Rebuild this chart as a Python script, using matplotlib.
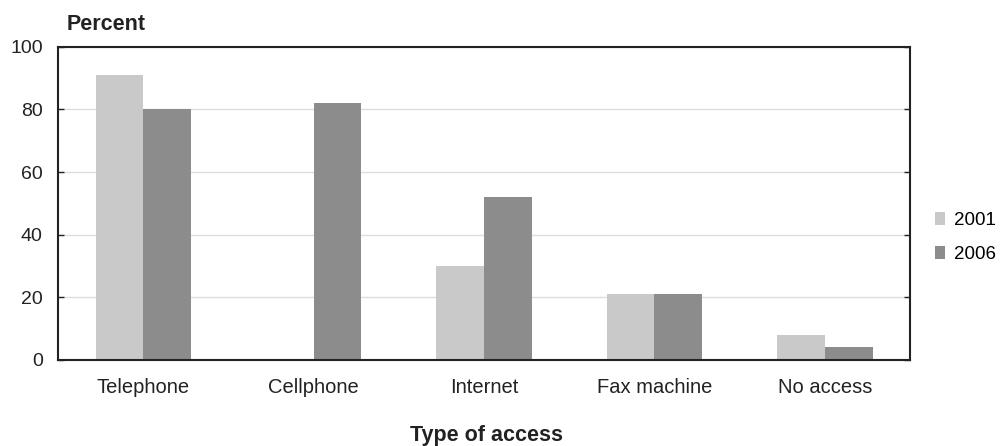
import matplotlib
matplotlib.use("Agg")
import matplotlib.pyplot as plt
import numpy as np

plt.rcParams['font.family'] = ['Liberation Sans', 'DejaVu Sans']

categories = ["Telephone", "Cellphone", "Internet", "Fax machine", "No access"]
years = ["2001", "2006"]
values_2001 = [91, 0, 30, 21, 8]
values_2006 = [80, 82, 52, 21, 4]
y_ticks = [0, 20, 40, 60, 80, 100]

color_2001 = "#c9c9c9"
color_2006 = "#8c8c8c"
ink = "#222222"

fig = plt.figure(figsize=(10.04, 4.46), dpi=100)
ax = fig.add_axes([0.0578, 0.193, 0.8486, 0.702])

x = np.arange(len(categories))
width = 0.28
ax.bar(x - width / 2, values_2001, width, color=color_2001, label=years[0], zorder=2)
ax.bar(x + width / 2, values_2006, width, color=color_2006, label=years[1], zorder=2)

ax.set_xlim(-0.5, len(categories) - 0.5)
ax.set_ylim(0, 100)
ax.set_yticks(y_ticks)
ax.set_yticklabels([str(t) for t in y_ticks], fontsize=14, color=ink)
ax.set_xticks(x)
ax.set_xticklabels(categories, fontsize=14.5, color=ink)
ax.tick_params(axis='x', length=0, pad=13)
ax.tick_params(axis='y', length=4, width=1, direction='in', right=True, pad=11, color=ink)
ax.grid(axis='y', color='#dddddd', linewidth=1, zorder=0)

for side in ['left', 'bottom', 'right', 'top']:
    ax.spines[side].set_color(ink)
    ax.spines[side].set_linewidth(1.5)

fig.text(67 / 1004, 1 - 30 / 446, "Percent", fontsize=15.5, fontweight='bold',
         color=ink, va='baseline')
fig.text(487 / 1004, 5 / 446, "Type of access", fontsize=15.5, fontweight='bold',
         color=ink, ha='center', va='baseline')

ax.legend(loc='center left', bbox_to_anchor=(935 / 1004, 1 - 237.5 / 446),
          bbox_transform=fig.transFigure, frameon=False, borderpad=0, borderaxespad=0,
          fontsize=13.5, handlelength=0.53, handleheight=0.7, handletextpad=0.5,
          labelspacing=0.87)

fig.savefig("out.png", dpi=100)
